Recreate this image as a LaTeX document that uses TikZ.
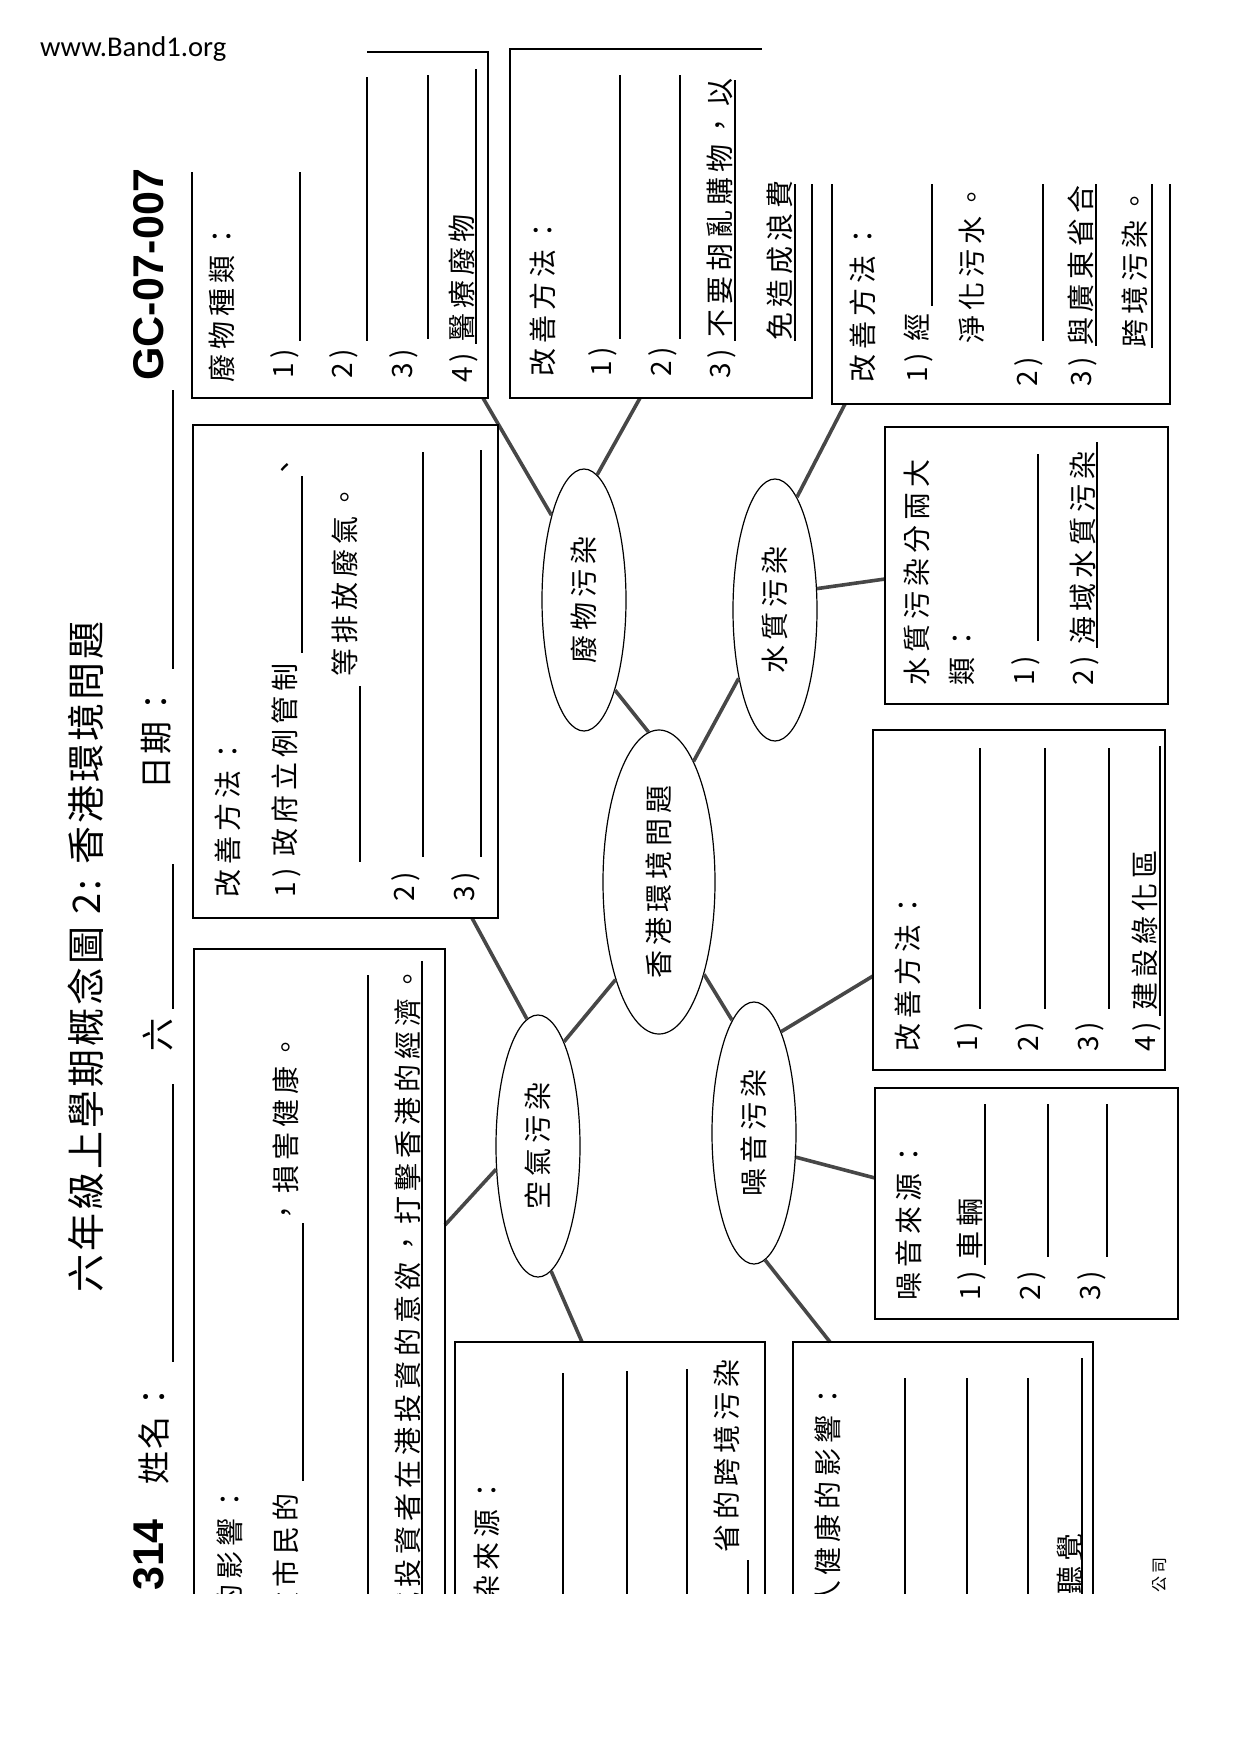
\documentclass[tikz,border=0pt]{standalone}
\usepackage{fontspec}
\usepackage{graphicx}
\setmainfont{Noto Sans CJK TC}
\newfontfamily\bodyf[LetterSpace=18]{Noto Sans CJK TC}
\newfontfamily\headf[LetterSpace=8]{Noto Sans CJK TC}
\newfontfamily\codef{Liberation Sans}
\newfontfamily\webf{Carlito}
\usetikzlibrary{shapes.geometric}
\begin{document}
\begin{tikzpicture}[x=1pt,y=-1pt,
  boxline/.style={line width=1.4pt},
  ans/.style={line width=1.4pt},
  conn/.style={line width=3.6pt, black!72},
  txt/.style={rotate=90, anchor=base west, inner sep=0pt, font=\bodyf\fontsize{28}{28}\selectfont},
  small/.style={rotate=90, anchor=base west, inner sep=0pt, font=\bodyf\fontsize{16}{16}\selectfont},
  head/.style={rotate=90, anchor=base west, inner sep=0pt, font=\headf\fontsize{33}{33}\selectfont},
  titletxt/.style={rotate=90, anchor=base west, inner sep=0pt, font=\headf\fontsize{38}{38}\selectfont},
  code/.style={rotate=90, anchor=base west, inner sep=0pt, font=\codef\bfseries\fontsize{43}{43}\selectfont},
  bubble/.style={ellipse, draw, line width=1.2pt, fill=white, inner sep=0pt, font=\bodyf\fontsize{28}{28}\selectfont}
]
\fill[white] (0,0) rectangle (1240,1754);
\useasboundingbox (0,0) rectangle (1240,1754);

\node[anchor=base west, inner sep=0pt, font=\webf\fontsize{28.6}{28.6}\selectfont] (web) at (40,56) {www.Band1.org};

\begin{scope}
\clip (0,0) rectangle (1240,1593);

% ---------- header ----------
\node[titletxt] (title) at (100,1293) {六年級上學期概念圖 2: 香港環境問題};
\node[code] (code) at (163,381) {GC-07-007};
\node[code] (num) at (163,1591) {314};
\node[head] (name) at (166,1485) {姓名：};
\node[head] (cls) at (170,1052) {六};
\node[head] (date) at (168,790) {日期：};
\draw[ans] (173,1084) -- (173,1362);
\draw[ans] (173,864) -- (173,1009);
\draw[ans] (173,390) -- (173,669);

% ---------- bubbles ----------
\node[bubble, minimum width=112pt, minimum height=304pt] (C) at (659,882) {\rotatebox{90}{香港環境問題}};
\node[bubble, minimum width=84pt, minimum height=262pt] (W) at (584,600) {\rotatebox{90}{廢物污染}};
\node[bubble, minimum width=84pt, minimum height=262pt] (A) at (775,610) {\rotatebox{90}{水質污染}};
\node[bubble, minimum width=84pt, minimum height=262pt] (K) at (538,1146) {\rotatebox{90}{空氣污染}};
\node[bubble, minimum width=84pt, minimum height=262pt] (N) at (754,1133) {\rotatebox{90}{噪音污染}};

% attachment points on boxes
\coordinate (wt) at (483,398);
\coordinate (wi) at (640,398);
\coordinate (qi) at (845,404);
\coordinate (qt) at (885,579);
\coordinate (ai) at (472,918);
\coordinate (am) at (445,1225);
\coordinate (as) at (582,1342);
\coordinate (ni) at (873,976);
\coordinate (ns) at (875,1178);
\coordinate (nm) at (830,1342);

% ---------- connectors ----------
\draw[conn] (C.94) -- (W.289);
\draw[conn] (C.74) -- (A.242);
\draw[conn] (C.246) -- (K.76);
\draw[conn] (C.296) -- (N.101);
\draw[conn] (W.111) -- (wt);
\draw[conn] (W.84) -- (wi);
\draw[conn] (A.79) -- (qi);
\draw[conn] (A.27) -- (qt);
\draw[conn] (K.95) -- (ai);
\draw[conn] (K.209) -- (am);
\draw[conn] (K.276) -- (as);
\draw[conn] (N.75) -- (ni);
\draw[conn] (N.330) -- (ns);
\draw[conn] (N.275) -- (nm);

% ---------- waste types box ----------
\draw[boxline] (192,172) -- (192,398) -- (488,398) -- (488,52) -- (367,52);
\node[txt] at (232,383) {廢物種類：};
\node[txt] at (293,379) {1)};
\node[txt] at (352,379) {2)};
\node[txt] at (412,379) {3)};
\node[txt] at (472,383) {4) 醫療廢物};
\draw[ans] (300,172) -- (300,341);
\draw[ans] (367,77) -- (367,341);
\draw[ans] (428,75) -- (428,339);
\draw[ans] (476,69) -- (476,344);

% ---------- waste improvement box ----------
\draw[boxline] (812,184) -- (812,398) -- (510,398) -- (510,49) -- (762,49);
\node[txt] at (553,377) {改善方法：};
\node[txt] at (611,377) {1)};
\node[txt] at (671,377) {2)};
\node[txt] at (730,379) {3) 不要胡亂購物，以};
\node[txt] at (790,341) {免造成浪費};
\draw[ans] (620,75) -- (620,339);
\draw[ans] (680,75) -- (680,339);
\draw[ans] (735,80) -- (735,341);
\draw[ans] (795,184) -- (795,341);

% ---------- water improvement box ----------
\draw[boxline] (832,184) -- (832,404) -- (1170,404) -- (1170,184);
\node[txt] at (873,383) {改善方法：};
\node[txt] at (927,383) {1) 經};
\node[txt] at (982,344) {淨化污水。};
\node[txt] at (1037,387) {2)};
\node[txt] at (1091,387) {3) 與廣東省合};
\node[txt] at (1145,348) {跨境污染。};
\draw[ans] (932,184) -- (932,306);
\draw[ans] (1043,184) -- (1043,341);
\draw[ans] (1096,184) -- (1096,346);
\draw[ans] (1152,184) -- (1152,348);

% ---------- water types box ----------
\draw[boxline] (885,427) rectangle (1168,704);
\node[txt] at (927,686) {水質污染分兩大};
\node[txt] at (972,686) {類：};
\node[txt] at (1034,686) {1)};
\node[txt] at (1093,686) {2) 海域水質污染};
\draw[ans] (1038,454) -- (1038,641);
\draw[ans] (1097,442) -- (1097,648);

% ---------- noise improvement box ----------
\draw[boxline] (873,730) rectangle (1165,1070);
\node[txt] at (918,1052) {改善方法：};
\node[txt] at (977,1052) {1)};
\node[txt] at (1038,1052) {2)};
\node[txt] at (1098,1052) {3)};
\node[txt] at (1155,1052) {4) 建設綠化區};
\draw[ans] (980,748) -- (980,1009);
\draw[ans] (1045,748) -- (1045,1009);
\draw[ans] (1109,748) -- (1109,1009);
\draw[ans] (1160,746) -- (1160,1016);

% ---------- noise sources box ----------
\draw[boxline] (875,1088) rectangle (1178,1319);
\node[txt] at (919,1301) {噪音來源：};
\node[txt] at (980,1301) {1) 車輛};
\node[txt] at (1040,1301) {2)};
\node[txt] at (1100,1301) {3)};
\draw[ans] (985,1104) -- (985,1265);
\draw[ans] (1048,1104) -- (1048,1257);
\draw[ans] (1107,1104) -- (1107,1257);

% ---------- noise impact box ----------
\draw[boxline] (793,1600) -- (793,1342) -- (1093,1342) -- (1093,1600);
\node[txt] at (838,1609) {人健康的影響：};
\draw[ans] (905,1378) -- (905,1600);
\draw[ans] (967,1378) -- (967,1600);
\draw[ans] (1028,1378) -- (1028,1600);
\node[txt] at (1080,1595) {聽覺};
\draw[ans] (1082,1358) -- (1082,1600);
\node[small] at (1165,1593) {公司};

% ---------- air source box ----------
\draw[boxline] (455,1600) -- (455,1342) -- (765,1342) -- (765,1600);
\node[txt] at (497,1604) {染來源：};
\draw[ans] (563,1373) -- (563,1600);
\draw[ans] (627,1371) -- (627,1600);
\draw[ans] (687,1369) -- (687,1600);
\node[txt] at (737,1553) {省的跨境污染};
\draw[ans] (748,1560) -- (748,1600);

% ---------- air impact box ----------
\draw[boxline] (194,1600) -- (194,949) -- (445,949) -- (445,1600);
\node[txt] at (240,1613) {的影響：};
\node[txt] at (296,1621) {政市民的};
\draw[ans] (303,1223) -- (303,1481);
\node[txt] at (296,1227) {，損害健康。};
\draw[ans] (368,975) -- (368,1600);
\node[txt] at (418,1621) {減投資者在港投資的意欲，打擊香港的經濟。};
\draw[ans] (422,961) -- (422,1600);

% ---------- air improvement box ----------
\draw[boxline] (193,425) rectangle (498,918);
\node[txt] at (238,898) {改善方法：};
\node[txt] at (295,898) {1) 政府立例管制};
\draw[ans] (302,476) -- (302,653);
\node[txt] at (295,482) {、};
\draw[ans] (360,686) -- (360,862);
\node[txt] at (355,677) {等排放廢氣。};
\node[txt] at (414,902) {2)};
\draw[ans] (423,452) -- (423,857);
\node[txt] at (474,902) {3)};
\draw[ans] (481,450) -- (481,857);
\end{scope}
\end{tikzpicture}
\end{document}
